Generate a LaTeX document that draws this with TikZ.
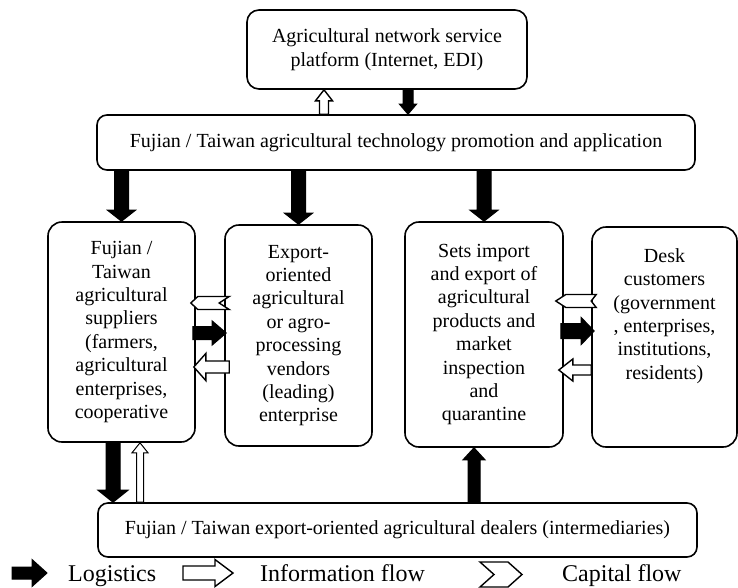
\documentclass[tikz,border=0pt]{standalone}
\usepackage{fontspec}
\setmainfont{Liberation Serif}
\usetikzlibrary{calc}

\newcommand{\boxfont}{\fontsize{20}{23.4}\selectfont}
\newcommand{\keyfont}{\fontsize{24}{28}\selectfont}

% block arrow: style, tail, tip, half shaft, half head, head length
\newcommand{\blockarrow}[6]{%
  \coordinate (ba-h) at ($(#3)!#6!(#2)$);
  \draw[#1] ($(#2)!#4!90:(#3)$) -- ($(ba-h)!#4!90:(#3)$) -- ($(ba-h)!#5!90:(#3)$) -- (#3)
    -- ($(ba-h)!#5!-90:(#3)$) -- ($(ba-h)!#4!-90:(#3)$) -- ($(#2)!#4!-90:(#3)$) -- cycle;
}
% capital flow chevron: tail, tip, half width, tip length, notch depth
\newcommand{\capflow}[5]{%
  \coordinate (cf-h) at ($(#2)!#4!(#1)$);
  \coordinate (cf-n) at ($(#1)!#5!(#2)$);
  \draw[capital] ($(#1)!#3!90:(#2)$) -- ($(cf-h)!#3!90:(#2)$) -- (#2)
    -- ($(cf-h)!#3!-90:(#2)$) -- ($(#1)!#3!-90:(#2)$) -- (cf-n) -- cycle;
}

\tikzset{
  box/.style={draw, line width=1.6pt, rounded corners=14pt, align=center, inner sep=2pt, font=\boxfont},
  key/.style={font=\keyfont, inner sep=0pt},
  logistics/.style={draw, fill=black, line width=1pt},
  info/.style={draw, fill=white, line width=1.4pt},
  capital/.style={draw, fill=white, line width=1.4pt},
}

\begin{document}
\begin{tikzpicture}[x=1pt, y=-1pt]
\useasboundingbox (0,0) rectangle (738,587);

\node[box, rounded corners=12pt, minimum width=280pt, minimum height=79pt] (top) at (387,49.5)
  {Agricultural network service\\platform (Internet, EDI)};
\node[box, rounded corners=10pt, minimum width=598pt, minimum height=55pt] (tech) at (396,142.5)
  {Fujian / Taiwan agricultural technology promotion and application};

\node[box, minimum width=147pt, minimum height=220pt] (supp) at (121.5,332)
  {Fujian /\\Taiwan\\agricultural\\suppliers\\(farmers,\\agricultural\\enterprises,\\cooperative};
\node[box, minimum width=147pt, minimum height=221pt] (export) at (298.5,335.5)
  {Export-\\oriented\\agricultural\\or agro-\\processing\\vendors\\(leading)\\enterprise};
\node[box, minimum width=158pt, minimum height=225pt] (import) at (484,334.5)
  {Sets import\\and export of\\agricultural\\products and\\market\\inspection\\and\\quarantine};
\node[box, minimum width=145pt, minimum height=220pt] (desk) at (664.5,337) {};
\node[align=center, inner sep=0pt, font=\boxfont, anchor=north] (desktxt) at ([yshift=-22pt]desk.north)
  {Desk\\customers\\(government\\, enterprises,\\institutions,\\residents)};

\node[box, rounded corners=10pt, minimum width=599pt, minimum height=54pt] (dealer) at (397.5,530)
  {Fujian / Taiwan export-oriented agricultural dealers (intermediaries)};

% platform <-> technology
\coordinate (tu-a) at (tech.north -| 324,0);
\coordinate (tu-b) at (top.south -| 324,0);
\blockarrow{info}{tu-a}{tu-b}{4.5pt}{8.5pt}{11pt}
\coordinate (td-a) at (top.south -| 408,0);
\coordinate (td-b) at (tech.north -| 408,0);
\blockarrow{logistics}{td-a}{td-b}{5pt}{8.5pt}{10pt}

% technology -> middle row
\foreach \n in {supp, export, import} {
  \coordinate (\n-in) at (tech.south -| \n.north);
  \blockarrow{logistics}{\n-in}{\n.north}{7pt}{14pt}{11pt}
}

% suppliers <-> vendors
\coordinate (c1-a) at ($(export.west |- 0,303)+(5,0)$);
\coordinate (c1-b) at ($(supp.east |- 0,303)+(-5,0)$);
\capflow{c1-a}{c1-b}{6.5pt}{7pt}{10pt}
\coordinate (l1-a) at ($(supp.east |- 0,333)+(-3,0)$);
\coordinate (l1-b) at ($(export.west |- 0,333)+(2,0)$);
\blockarrow{logistics}{l1-a}{l1-b}{6.5pt}{12pt}{14pt}
\coordinate (i1-a) at ($(export.west |- 0,367)+(5,0)$);
\coordinate (i1-b) at ($(supp.east |- 0,367)+(-2,0)$);
\blockarrow{info}{i1-a}{i1-b}{6pt}{13.5pt}{12pt}

% inspection <-> customers
\coordinate (c2-a) at ($(desk.west |- 0,301)+(5,0)$);
\coordinate (c2-b) at ($(import.east |- 0,301)+(-8,0)$);
\capflow{c2-a}{c2-b}{6.5pt}{10pt}{5pt}
\coordinate (l2-a) at ($(import.east |- 0,331)+(-3,0)$);
\coordinate (l2-b) at ($(desk.west |- 0,331)+(3,0)$);
\blockarrow{logistics}{l2-a}{l2-b}{7.5pt}{13.5pt}{13pt}
\coordinate (i2-a) at (desk.west |- 0,370);
\coordinate (i2-b) at ($(import.east |- 0,370)+(-5,0)$);
\blockarrow{info}{i2-a}{i2-b}{5pt}{11pt}{14pt}

% dealers
\coordinate (sd-a) at (supp.south -| 113,0);
\coordinate (sd-b) at (dealer.north -| 113,0);
\blockarrow{logistics}{sd-a}{sd-b}{7pt}{15pt}{12pt}
\coordinate (ds-a) at (dealer.north -| 140,0);
\coordinate (ds-b) at (supp.south -| 140,0);
\blockarrow{info, line width=1pt}{ds-a}{ds-b}{3.5pt}{8pt}{10pt}
\coordinate (di-a) at (dealer.north -| 474,0);
\coordinate (di-b) at (import.south -| 474,0);
\blockarrow{logistics}{di-a}{di-b}{6pt}{11pt}{12pt}

% legend
\coordinate (kl-a) at (12,573);
\coordinate (kl-b) at (47,573);
\blockarrow{logistics}{kl-a}{kl-b}{6pt}{13.5pt}{15pt}
\node[key, anchor=base west] (k-log) at (68,581) {Logistics};
\coordinate (ki-a) at (183,573);
\coordinate (ki-b) at (233,573);
\blockarrow{info}{ki-a}{ki-b}{7pt}{13.5pt}{18pt}
\node[key, anchor=base west] (k-info) at (260,581) {Information flow};
\coordinate (kc-a) at (480,574.5);
\coordinate (kc-b) at (522,574.5);
\capflow{kc-a}{kc-b}{12.5pt}{14pt}{14pt}
\node[key, anchor=base west] (k-cap) at (562,581) {Capital flow};

\end{tikzpicture}
\end{document}
